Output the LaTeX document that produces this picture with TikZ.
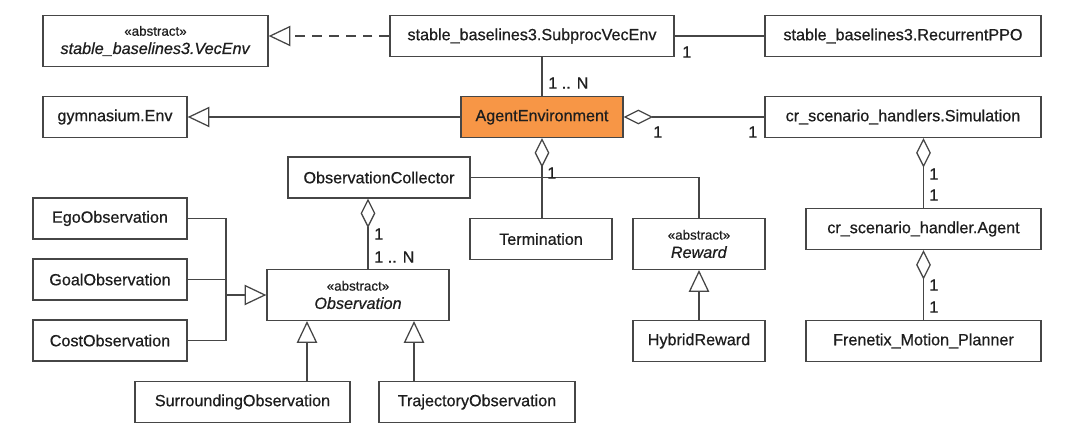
\documentclass[tikz,border=0pt]{standalone}
\usepackage{fontspec}
\setmainfont{Liberation Sans}[RawFeature={embolden=0.6}]
\usetikzlibrary{arrows.meta}
\definecolor{agentorange}{RGB}{247,150,70}
\definecolor{linegray}{RGB}{70,70,70}
\definecolor{textgray}{RGB}{30,30,30}
\tikzset{
  cls/.style={draw=linegray, line width=0.9pt, fill=white, text=textgray, minimum height=1.02cm, inner sep=2pt, align=center, font=\fontsize{11.5}{13}\selectfont},
  abscls/.style={cls, minimum height=1.27cm},
  conn/.style={draw=linegray, line width=0.9pt},
  inherit/.style={conn, -{Triangle[open, length=15.5pt, width=14.5pt]}},
  agg/.style={conn, {Diamond[open, length=21pt, width=10.5pt]}-},
  mult/.style={inner sep=0pt, anchor=west, text=textgray, font=\fontsize{11.5}{13}\selectfont}
}
\newcommand{\stereo}{{\fontsize{9.5}{10}\selectfont «abstract»}}

\begin{document}
\begin{tikzpicture}[x=0.025cm, y=-0.025cm]
    \useasboundingbox (0,0) rectangle (1080,433);

    \node[abscls, minimum width=5.625cm] (vecenv) at (155.5,41) {\stereo\\[0pt]\textit{stable\_baselines3.VecEnv}};
    \node[cls, minimum width=7.1cm] (subproc) at (532,36) {stable\_baselines3.SubprocVecEnv};
    \node[cls, minimum width=6.9cm] (ppo) at (903,36) {stable\_baselines3.RecurrentPPO};
    \node[cls, minimum width=3.6cm] (gym) at (115,117) {gymnasium.Env};
    \node[cls, minimum width=4.05cm, fill=agentorange] (agentenv) at (542,117) {AgentEnvironment};
    \node[cls, minimum width=6.9cm] (simulation) at (903,117) {cr\_scenario\_handlers.Simulation};
    \node[cls, minimum width=4.55cm] (obscollector) at (379,177.5) {ObservationCollector};
    \node[cls, minimum width=3.85cm] (ego) at (110,218.5) {EgoObservation};
    \node[cls, minimum width=3.85cm] (goal) at (110,279.5) {GoalObservation};
    \node[cls, minimum width=3.85cm] (cost) at (110,340.5) {CostObservation};
    \node[abscls, minimum width=4.55cm] (observation) at (358,295) {\stereo\\[0pt]\textit{Observation}};
    \node[cls, minimum width=5.375cm] (surrounding) at (242.5,402) {SurroundingObservation};
    \node[cls, minimum width=4.9cm] (trajectory) at (477,402) {TrajectoryObservation};
    \node[cls, minimum width=3.55cm] (termination) at (541,239) {Termination};
    \node[abscls, minimum width=3.3cm] (reward) at (699,244) {\stereo\\[0pt]\textit{Reward}};
    \node[cls, minimum width=3.3cm] (hybrid) at (699,341) {HybridReward};
    \node[cls, minimum width=5.875cm] (agent) at (923.5,229) {cr\_scenario\_handler.Agent};
    \node[cls, minimum width=5.875cm] (frenetix) at (923.5,341) {Frenetix\_Motion\_Planner};

    \draw[conn, dash pattern=on 7pt off 5pt, -{Triangle[open, length=15.5pt, width=14.5pt]}] (subproc.west) -- (vecenv.east |- subproc.west);
    \draw[conn] (subproc.east) -- (ppo.west);
    \draw[conn] (subproc.south -| agentenv.north) -- (agentenv.north);
    \draw[inherit] (agentenv.west) -- (gym.east);
    \draw[agg] (agentenv.east) -- (simulation.west);
    \draw[agg] (agentenv.south) -- (agentenv.south |- termination.north);
    \draw[conn] (obscollector.east) -| (reward.north);
    \draw[agg] ([xshift=-0.275cm]obscollector.south) -- ([xshift=-0.275cm]obscollector.south |- observation.north);

    \coordinate (obsjoin) at (226,295);
    \draw[conn] (ego.east) -| (obsjoin);
    \draw[conn] (cost.east) -| (obsjoin);
    \draw[conn] (goal.east) -- (goal.east -| obsjoin);
    \draw[inherit] (obsjoin) -- (observation.west);
    \draw[inherit] ([xshift=-1.275cm]observation.south |- surrounding.north) -- ([xshift=-1.275cm]observation.south);
    \draw[inherit] ([xshift=1.4cm]observation.south |- trajectory.north) -- ([xshift=1.4cm]observation.south);
    \draw[inherit] (hybrid.north) -- (reward.south);
    \draw[agg] (simulation.south -| agent.north) -- (agent.north);
    \draw[agg] (agent.south) -- (frenetix.north);

    \node[mult] (m-ppo) at (682,52) {1};
    \node[mult] (m-envs) at (548,83) {1 .. N};
    \node[mult] (m-simenv) at (653,132) {1};
    \node[mult] (m-simsim) at (748,132) {1};
    \node[mult] (m-parts) at (547,173) {1};
    \node[mult] (m-coll) at (374,234) {1};
    \node[mult] (m-obs) at (374,257) {1 .. N};
    \node[mult] (m-simagent1) at (929,174) {1};
    \node[mult] (m-simagent2) at (929,195) {1};
    \node[mult] (m-planner1) at (929,285) {1};
    \node[mult] (m-planner2) at (929,307) {1};
\end{tikzpicture}
\end{document}
